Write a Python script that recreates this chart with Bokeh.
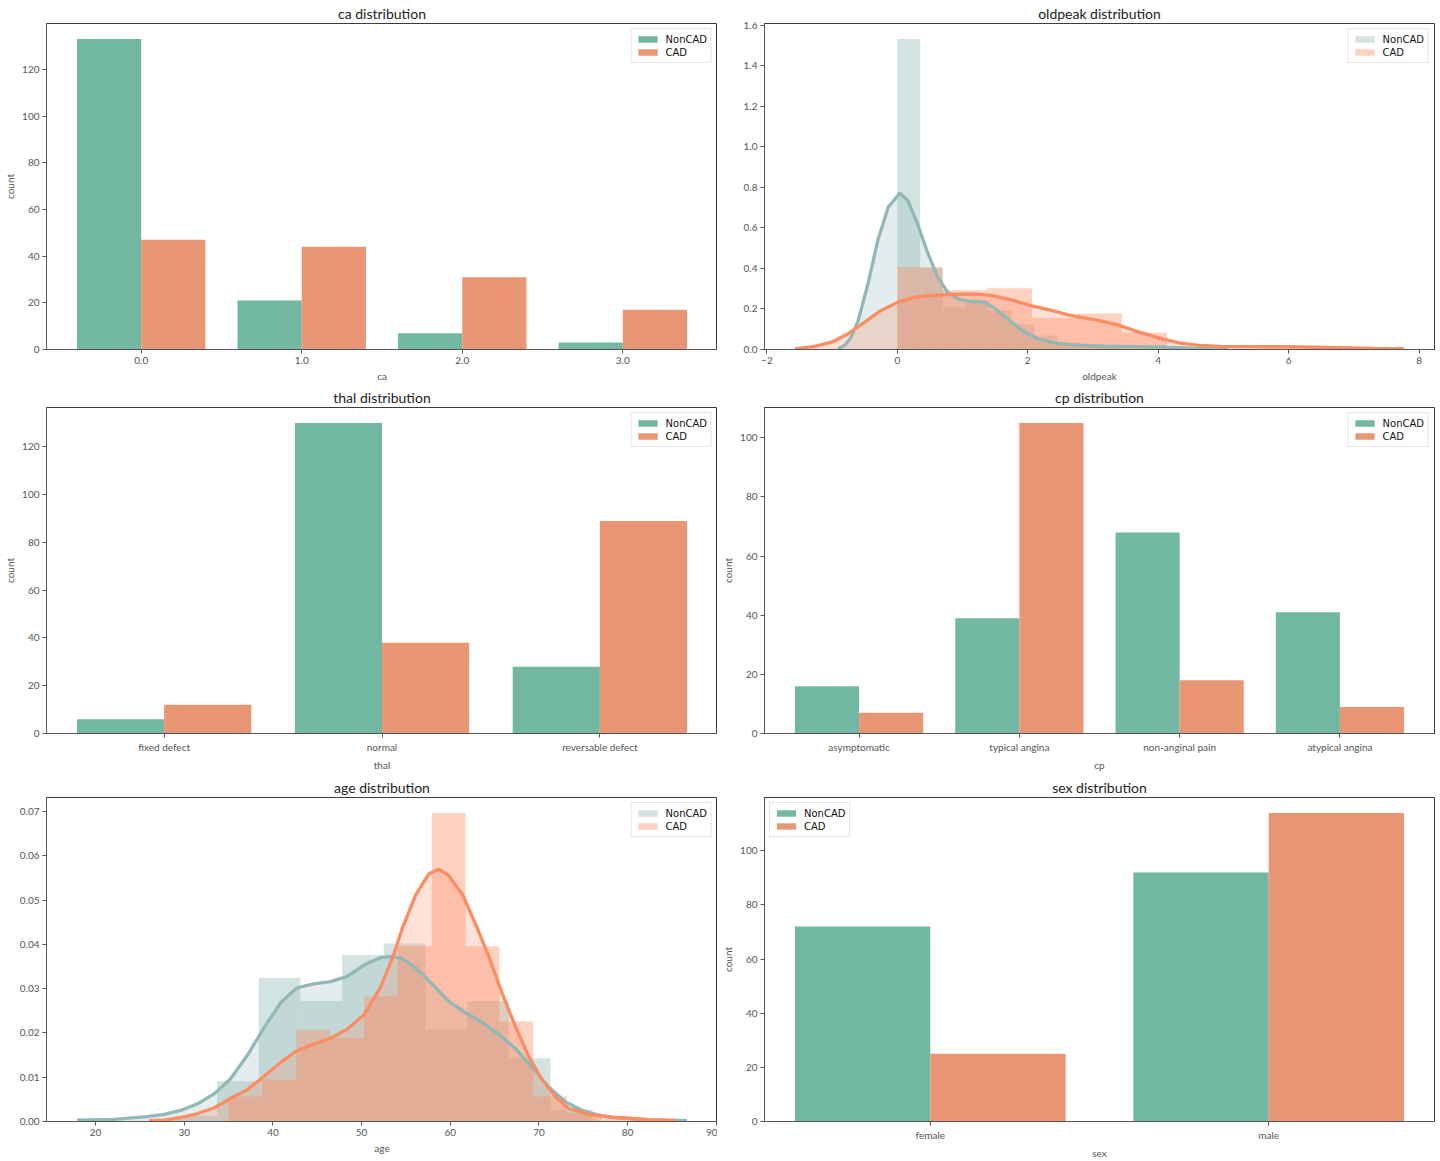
import numpy as np
from bokeh.plotting import figure
from bokeh.layouts import column, row
from bokeh.models import FixedTicker, Range1d, Legend, LegendItem, PrintfTickFormatter
from bokeh.embed import file_html
from bokeh.resources import INLINE

# ---------------- data ----------------
groups = ["NonCAD", "CAD"]

ca_categories = ["0.0", "1.0", "2.0", "3.0"]
ca_noncad = [133, 21, 7, 3]
ca_cad = [47, 44, 31, 17]

thal_categories = ["fixed defect", "normal", "reversable defect"]
thal_noncad = [6, 130, 28]
thal_cad = [12, 38, 89]

cp_categories = ["asymptomatic", "typical angina", "non-anginal pain", "atypical angina"]
cp_noncad = [16, 39, 68, 41]
cp_cad = [7, 105, 18, 9]

sex_categories = ["female", "male"]
sex_noncad = [72, 92]
sex_cad = [25, 114]

# oldpeak histograms (bin range, counts) and KDE curves
oldpeak_noncad_range = (0.0, 4.2)
oldpeak_noncad_counts = [88, 23, 12, 14, 11, 7, 4, 2, 1, 1, 0, 1]
oldpeak_cad_range = (0.0, 6.2)
oldpeak_cad_counts = [39, 28, 29, 15, 17, 8, 1, 0, 2]

oldpeak_kde_noncad_x = [-0.91, -0.81, -0.71, -0.60, -0.45, -0.30, -0.14, 0.04, 0.16, 0.31,
                        0.47, 0.62, 0.77, 0.93, 1.13, 1.34, 1.54, 1.75, 1.95, 2.15,
                        2.41, 2.66, 3.17, 3.60, 4.10, 4.60, 5.08]
oldpeak_kde_noncad_y = [0.004, 0.020, 0.060, 0.143, 0.324, 0.538, 0.703, 0.772, 0.736, 0.620,
                        0.473, 0.357, 0.283, 0.250, 0.237, 0.234, 0.193, 0.135, 0.086, 0.053,
                        0.033, 0.023, 0.016, 0.014, 0.011, 0.006, 0.002]
oldpeak_kde_cad_x = [-1.57, -1.27, -1.01, -0.76, -0.50, -0.25, 0.01, 0.27, 0.52, 0.83,
                     1.13, 1.44, 1.75, 2.05, 2.36, 2.66, 2.97, 3.10, 3.40, 3.71,
                     4.02, 4.32, 4.63, 4.94, 5.40, 5.90, 6.41, 6.92, 7.30, 7.77]
oldpeak_kde_cad_y = [0.003, 0.015, 0.036, 0.077, 0.135, 0.193, 0.234, 0.258, 0.267, 0.272,
                     0.275, 0.267, 0.245, 0.217, 0.193, 0.168, 0.150, 0.143, 0.119, 0.086,
                     0.056, 0.033, 0.020, 0.015, 0.014, 0.014, 0.011, 0.008, 0.006, 0.004]

# age histograms and KDE curves
age_noncad_range = (29, 76)
age_noncad_counts = [1, 7, 25, 21, 29, 31, 16, 21, 11, 2]
age_cad_range = (35, 77)
age_cad_counts = [3, 5, 11, 10, 15, 21, 37, 21, 12, 3, 1]

age_kde_noncad_x = [17.9, 22.1, 25.8, 27.7, 29.6, 31.5, 33.4, 35.2, 37.1, 39.0,
                    40.9, 42.7, 44.6, 46.5, 48.4, 50.3, 52.1, 53.4, 54.6, 56.1,
                    58.0, 59.8, 61.7, 63.6, 65.5, 67.4, 69.2, 71.1, 73.0, 74.9,
                    76.8, 78.6, 82.4, 86.7]
age_kde_noncad_y = [0.0003, 0.0005, 0.0011, 0.0016, 0.0025, 0.0040, 0.0063, 0.0096, 0.0149, 0.0212,
                    0.0269, 0.0302, 0.0311, 0.0316, 0.0328, 0.0354, 0.0370, 0.0373, 0.0368, 0.0347,
                    0.0310, 0.0272, 0.0246, 0.0224, 0.0197, 0.0164, 0.0123, 0.0078, 0.0044, 0.0025,
                    0.0014, 0.0009, 0.0004, 0.0002]
age_kde_cad_x = [26.0, 27.7, 29.6, 31.5, 33.4, 35.2, 37.1, 39.0, 40.9, 42.7,
                 44.6, 46.5, 48.4, 50.3, 52.1, 53.5, 54.6, 56.1, 57.6, 58.7,
                 59.8, 61.4, 62.9, 64.4, 65.9, 67.4, 68.9, 70.4, 71.9, 73.4,
                 75.6, 78.6, 82.4, 85.6]
age_kde_cad_y = [0.0002, 0.0003, 0.0009, 0.0018, 0.0031, 0.0052, 0.0072, 0.0102, 0.0134, 0.0160,
                 0.0175, 0.0188, 0.0209, 0.0242, 0.0302, 0.0370, 0.0437, 0.0512, 0.0560, 0.0570,
                 0.0556, 0.0512, 0.0444, 0.0370, 0.0287, 0.0212, 0.0145, 0.0093, 0.0055, 0.0029,
                 0.0016, 0.0009, 0.0004, 0.0002]

# ---------------- style ----------------
NONCAD_BAR = "#72b7a1"
CAD_BAR = "#e99675"
NONCAD_DIST = "#91b8b6"
CAD_DIST = "#fc8d62"
FONT = "Lato"
TICK_COLOR = "#555555"

COL_W = [717, 723]
COL_BORDER = [(46, 0), (47, 6)]
ROW_H = [384, 390, 387]
ROW_BOTTOM = [35, 41, 38]
TOP_BORDER = 23


def base_figure(title, col, rw, x_range, y_range):
    p = figure(width=COL_W[col], height=ROW_H[rw], x_range=x_range, y_range=y_range,
               output_backend="svg", toolbar_location=None, tools="",
               min_border_left=COL_BORDER[col][0], min_border_right=COL_BORDER[col][1],
               min_border_top=TOP_BORDER, min_border_bottom=ROW_BOTTOM[rw])
    p.title.text = title
    p.title.align = "center"
    p.title.text_font = FONT
    p.title.text_font_size = "14px"
    p.title.text_font_style = "normal"
    p.title.text_color = "#222222"
    p.title.standoff = 3
    p.grid.visible = False
    p.outline_line_color = "#3c3c3c"
    p.outline_line_width = 1
    p.background_fill_color = "white"
    p.border_fill_color = "white"
    for ax in (p.xaxis, p.yaxis):
        ax.axis_line_color = "#555555"
        ax.major_tick_line_color = "#555555"
        ax.minor_tick_line_color = None
        ax.major_tick_in = 0
        ax.major_tick_out = 4
        ax.major_label_text_font = FONT
        ax.major_label_text_font_size = "10px"
        ax.major_label_text_color = TICK_COLOR
        ax.axis_label_text_font = FONT
        ax.axis_label_text_font_size = "10px"
        ax.axis_label_text_font_style = "normal"
        ax.axis_label_text_color = TICK_COLOR
    p.xaxis.major_label_standoff = 3
    p.xaxis.axis_label_standoff = 3
    p.yaxis.major_label_standoff = 3
    p.yaxis.axis_label_standoff = 3
    return p


def add_legend(p, renderers, loc):
    leg = Legend(items=[LegendItem(label=g, renderers=[r]) for g, r in zip(groups, renderers)],
                 location=loc, margin=5, padding=4, spacing=1, glyph_width=24, glyph_height=8,
                 label_standoff=6, label_height=12, label_text_font="DejaVu Sans",
                 label_text_font_size="10px", label_text_color="#111111",
                 border_line_color="#cccccc", border_line_width=1,
                 background_fill_color="white", background_fill_alpha=0.8)
    p.add_layout(leg)


def countplot(title, xlabel, cats, a, b, yticks, col, rw, loc="top_right"):
    n = len(cats)
    lo, hi = -0.4, n - 1 + 0.4
    pad = 0.05 * (hi - lo)
    ymax = max(max(a), max(b)) * 1.05
    p = base_figure(title, col, rw, Range1d(lo - pad, hi + pad), Range1d(0, ymax))
    idx = np.arange(n)
    r1 = p.vbar(x=idx - 0.2, top=a, width=0.4, fill_color=NONCAD_BAR, line_color=None)
    r2 = p.vbar(x=idx + 0.2, top=b, width=0.4, fill_color=CAD_BAR, line_color=None)
    p.xaxis.ticker = FixedTicker(ticks=list(range(n)))
    p.xaxis.major_label_overrides = {i: c for i, c in enumerate(cats)}
    p.yaxis.ticker = FixedTicker(ticks=yticks)
    p.xaxis.axis_label = xlabel
    p.yaxis.axis_label = "count"
    add_legend(p, [r1, r2], loc)
    return p


def distplot(title, xlabel, nc_range, nc_counts, c_range, c_counts,
             nc_kx, nc_ky, c_kx, c_ky, xticks, yticks, xfmt, yfmt, col, rw, xover=None):
    nc_edges = np.linspace(nc_range[0], nc_range[1], len(nc_counts) + 1)
    c_edges = np.linspace(c_range[0], c_range[1], len(c_counts) + 1)
    nc_dens = np.array(nc_counts) / (sum(nc_counts) * np.diff(nc_edges))
    c_dens = np.array(c_counts) / (sum(c_counts) * np.diff(c_edges))
    xmin = min(min(nc_kx), min(c_kx))
    xmax = max(max(nc_kx), max(c_kx))
    pad = 0.05 * (xmax - xmin)
    ymax = max(nc_dens.max(), c_dens.max()) * 1.05
    p = base_figure(title, col, rw, Range1d(xmin - pad, xmax + pad), Range1d(0, ymax))
    r1 = p.quad(left=nc_edges[:-1], right=nc_edges[1:], bottom=0, top=nc_dens,
                fill_color=NONCAD_DIST, fill_alpha=0.4, line_color=None)
    p.varea(x=nc_kx, y1=0, y2=nc_ky, fill_color=NONCAD_DIST, fill_alpha=0.25)
    r2 = p.quad(left=c_edges[:-1], right=c_edges[1:], bottom=0, top=c_dens,
                fill_color=CAD_DIST, fill_alpha=0.4, line_color=None)
    p.varea(x=c_kx, y1=0, y2=c_ky, fill_color=CAD_DIST, fill_alpha=0.25)
    p.line(nc_kx, nc_ky, line_color=NONCAD_DIST, line_width=3.3)
    p.line(c_kx, c_ky, line_color=CAD_DIST, line_width=3.3)
    p.xaxis.ticker = FixedTicker(ticks=xticks)
    p.yaxis.ticker = FixedTicker(ticks=yticks)
    p.xaxis.formatter = PrintfTickFormatter(format=xfmt)
    p.yaxis.formatter = PrintfTickFormatter(format=yfmt)
    if xover:
        p.xaxis.major_label_overrides = xover
    p.xaxis.axis_label = xlabel
    add_legend(p, [r1, r2], "top_right")
    return p


p1 = countplot("ca distribution", "ca", ca_categories, ca_noncad, ca_cad,
               [0, 20, 40, 60, 80, 100, 120], 0, 0)
p2 = distplot("oldpeak distribution", "oldpeak", oldpeak_noncad_range, oldpeak_noncad_counts,
              oldpeak_cad_range, oldpeak_cad_counts,
              oldpeak_kde_noncad_x, oldpeak_kde_noncad_y, oldpeak_kde_cad_x, oldpeak_kde_cad_y,
              [-2, 0, 2, 4, 6, 8], [round(0.2 * i, 1) for i in range(9)], "%d", "%.1f", 1, 0,
              xover={-2: "\u22122"})
p3 = countplot("thal distribution", "thal", thal_categories, thal_noncad, thal_cad,
               [0, 20, 40, 60, 80, 100, 120], 0, 1)
p4 = countplot("cp distribution", "cp", cp_categories, cp_noncad, cp_cad,
               [0, 20, 40, 60, 80, 100], 1, 1)
p5 = distplot("age distribution", "age", age_noncad_range, age_noncad_counts,
              age_cad_range, age_cad_counts,
              age_kde_noncad_x, age_kde_noncad_y, age_kde_cad_x, age_kde_cad_y,
              [20, 30, 40, 50, 60, 70, 80, 90], [round(0.01 * i, 2) for i in range(8)],
              "%d", "%.2f", 0, 2)
p6 = countplot("sex distribution", "sex", sex_categories, sex_noncad, sex_cad,
               [0, 20, 40, 60, 80, 100], 1, 2, loc="top_left")

layout = column(row(p1, p2), row(p3, p4), row(p5, p6))
open("out.html", "w").write(file_html(layout, INLINE))
